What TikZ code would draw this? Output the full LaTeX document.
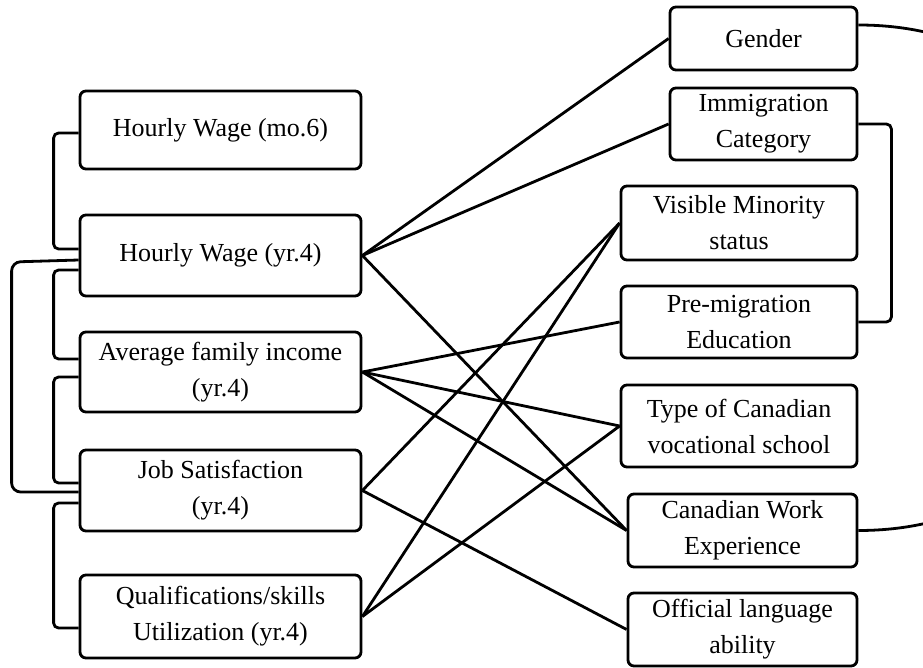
\documentclass[tikz,border=0pt]{standalone}
\usepackage{fontspec}
\setmainfont{Liberation Serif}
\usetikzlibrary{calc}

\tikzset{
  varbox/.style={draw, line width=2.8pt, rounded corners=6pt, align=center,
    inner sep=0pt, font=\fontsize{26}{36}\selectfont},
  link/.style={line width=2.8pt},
  elbow/.style={line width=2.8pt, rounded corners=5pt}
}

\begin{document}
\begin{tikzpicture}[x=1pt, y=-1pt]
			%%%%% START %%%%%
			\useasboundingbox (0, 0) rectangle (923, 668);
			\clip (0, 0) rectangle (923, 668);
			
			% outcomes (left)
			\node[varbox, minimum width=281, minimum height=78] (hw6) at (220.5, 130) {Hourly Wage (mo.6)};
			\node[varbox, minimum width=281, minimum height=81] (hw4) at (220.5, 255.5) {Hourly Wage (yr.4)};
			\node[varbox, minimum width=281, minimum height=80] (inc) at (220.5, 372) {Average family income\\(yr.4)};
			\node[varbox, minimum width=281, minimum height=81] (sat) at (220.5, 490.5) {Job Satisfaction\\(yr.4)};
			\node[varbox, minimum width=281, minimum height=83] (qual) at (220.5, 616.5) {Qualifications/skills\\Utilization (yr.4)};
			
			% predictors (right)
			\node[varbox, minimum width=187, minimum height=63] (gen) at (763.5, 38.5) {Gender};
			\node[varbox, minimum width=187, minimum height=72] (imm) at (763.5, 124) {Immigration\\Category};
			\node[varbox, minimum width=236, minimum height=74] (vis) at (739, 223) {Visible Minority\\status};
			\node[varbox, minimum width=236, minimum height=72] (pre) at (739, 322) {Pre-migration\\Education};
			\node[varbox, minimum width=236, minimum height=82] (typ) at (739, 426) {Type of Canadian\\vocational school};
			\node[varbox, minimum width=229, minimum height=73] (cwe) at (742.5, 530.5) {Canadian Work\\Experience};
			\node[varbox, minimum width=229, minimum height=73] (lang) at (742.5, 629.5) {Official language\\ability};
			
			% brackets on the left
			\draw[elbow] ($(hw6.west)+(0, 3)$) -- ++(-25, 0) |- ($(hw4.west)+(0, -6.5)$);
			\draw[elbow, rounded corners=9pt] ($(hw4.west)+(0, 4.5)$) -- ++(-67, 2) |- ($(sat.west)+(0, 1.5)$);
			\draw[elbow] ($(hw4.west)+(0, 14.5)$) -- ++(-25, 0) |- ($(inc.west)+(0, -13)$);
			\draw[elbow] ($(inc.west)+(0, 5)$) -- ++(-25, 0) |- ($(sat.west)+(0, -7.5)$);
			\draw[elbow] ($(sat.west)+(0, 12.5)$) -- ++(-25, 0) |- ($(qual.west)+(0, 11.5)$);
			
			% brackets on the right
			\draw[elbow] (imm.east) -- ++(33, 0) |- (pre.east);
			\draw[link] ($(gen.east)+(0, -13.5)$) .. controls (1200, 25) and (1200, 530.5) .. (cwe.east);
			
			% paths
			\draw[link] (hw4.east) -- (gen.west);
			\draw[link] (hw4.east) -- (imm.west);
			\draw[link] (hw4.east) -- (cwe.west);
			\draw[link] (inc.east) -- (pre.west);
			\draw[link] (inc.east) -- (typ.west);
			\draw[link] (inc.east) -- (cwe.west);
			\draw[link] (sat.east) -- (vis.west);
			\draw[link] (sat.east) -- (lang.west);
			\draw[link] (qual.east) -- (vis.west);
			\draw[link] (qual.east) -- (typ.west);
			
			%%%%% END %%%%%
\end{tikzpicture}
\end{document}
